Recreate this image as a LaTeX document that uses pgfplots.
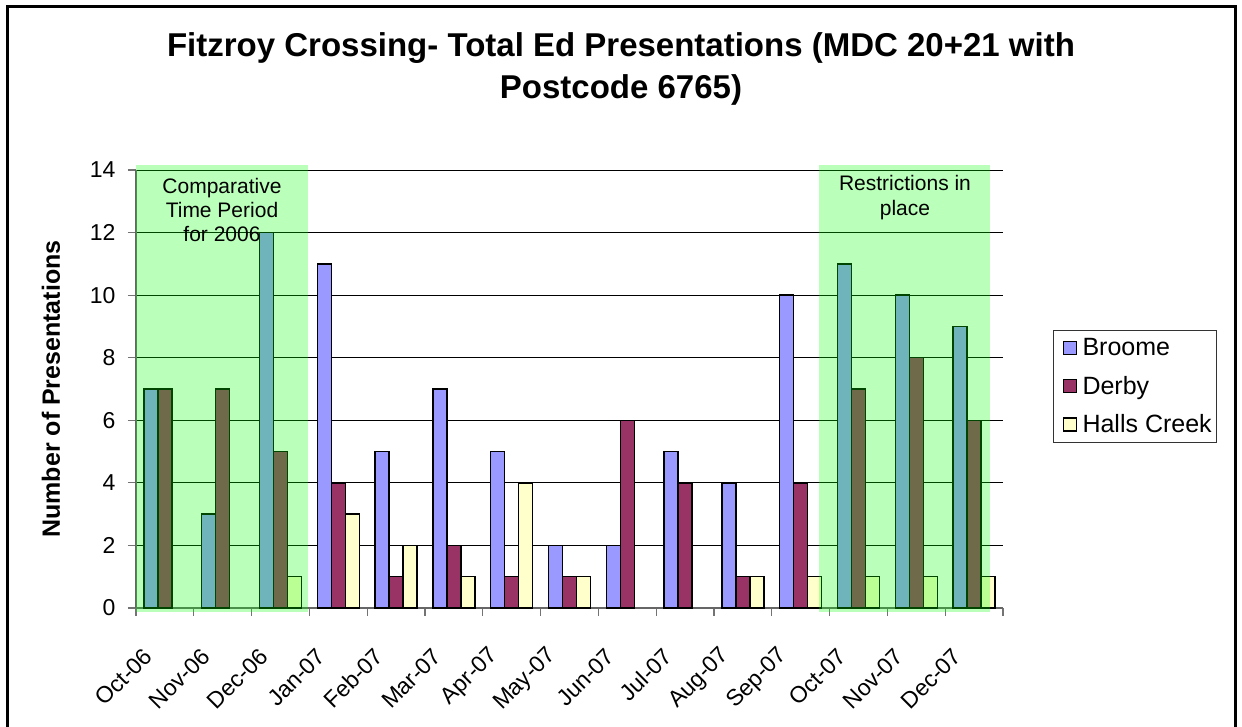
\documentclass[border=0pt]{standalone}
\usepackage{pgfplots}
\pgfplotsset{compat=1.18}
\usepackage{fontspec}
\setmainfont{Liberation Sans}
\definecolor{broome}{RGB}{153,153,255}
\definecolor{derby}{RGB}{153,51,102}
\definecolor{halls}{RGB}{255,255,204}
\definecolor{zone}{RGB}{0,255,0}
\newcommand{\tl}[1]{{\fontsize{23}{27}\selectfont #1}}
\newcommand{\xl}[1]{{\fontsize{23}{27}\selectfont #1}}

\begin{document}
\begin{tikzpicture}[x=1pt,y=1pt]
\useasboundingbox (0,0) rectangle (1242,727);
\fill[white] (0,0) rectangle (1242,727);
\draw[line width=3pt] (7,-10) -- (7,720) -- (1235,720) -- (1235,-10);
\begin{axis}[
  at={(136pt,119pt)}, anchor=south west,
  scale only axis, width=867pt, height=438pt,
  xmin=-0.5, xmax=14.5, ymin=0, ymax=14,
  ytick={0,2,...,14},
  yticklabels={\tl{0},\tl{2},\tl{4},\tl{6},\tl{8},\tl{10},\tl{12},\tl{14}},
  xtick={-0.25,0.75,1.75,2.75,3.75,4.75,5.75,6.75,7.75,8.75,9.75,10.75,11.75,12.75,13.75},
  xticklabels={\xl{Oct-06},\xl{Nov-06},\xl{Dec-06},\xl{Jan-07},\xl{Feb-07},\xl{Mar-07},\xl{Apr-07},\xl{May-07},\xl{Jun-07},\xl{Jul-07},\xl{Aug-07},\xl{Sep-07},\xl{Oct-07},\xl{Nov-07},\xl{Dec-07}},
  minor xtick={-0.5,0.5,...,14.5},
  major x tick style={draw=none},
  minor x tick style={draw=black!55, line width=1.2pt},
  major y tick style={draw=black!55, line width=1.2pt},
  tick align=outside,
  major tick length=8pt, minor tick length=8pt,
  axis x line*=bottom, axis y line*=left,
  axis line style={-, draw=black!60, line width=1.2pt},
  ymajorgrids,
  major grid style={draw=black, line width=0.9pt},
  ybar=0pt, bar width=14pt,
  clip=false,
  xticklabel style={rotate=45, anchor=east},
  xticklabel shift=34pt,
  yticklabel style={xshift=-9pt},
  ylabel={Number of Presentations},
  every axis y label/.style={at={(axis description cs:-0.098,0.5)}, rotate=90, anchor=center, font=\bfseries\fontsize{25}{30}\selectfont},
  legend style={at={(axis description cs:1.0577,0.6347)}, anchor=north west, draw=black!80, line width=1pt,
    font=\fontsize{25}{29}\selectfont, row sep=15pt, inner xsep=3pt, inner ysep=6pt, cells={anchor=west}},
  legend image code/.code={\path[draw=none,fill=none] (0pt,0pt) rectangle (24pt,0pt);\draw[#1, draw=black, line width=1.3pt] (7pt,-6.5pt) rectangle (20pt,6.5pt);},
]
\addplot[fill=broome, draw=black, line width=1.5pt] coordinates {
 (0,7) (1,3) (2,12) (3,11) (4,5) (5,7) (6,5) (7,2) (8,2) (9,5) (10,4) (11,10) (12,11) (13,10) (14,9)};
\addplot[fill=derby, draw=black, line width=1.5pt] coordinates {
 (0,7) (1,7) (2,5) (3,4) (4,1) (5,2) (6,1) (7,1) (8,6) (9,4) (10,1) (11,4) (12,7) (13,8) (14,6)};
\addplot[fill=halls, draw=black, line width=1.5pt] coordinates {
 (2,1) (3,3) (4,2) (5,1) (6,4) (7,1) (10,1) (11,1) (12,1) (13,1) (14,1)};
\legend{Broome,Derby,Halls Creek}
\fill[zone, fill opacity=0.27] (axis cs:-0.5,-0.13) rectangle (axis cs:2.476,14.16);
\fill[zone, fill opacity=0.27] (axis cs:11.32,-0.13) rectangle (axis cs:14.27,14.16);
\end{axis}
\node[align=center, inner sep=0pt, font=\fontsize{21}{24}\selectfont] at (222,517) {Comparative\\Time Period\\for 2006};
\node[align=center, inner sep=0pt, font=\fontsize{21}{25}\selectfont] at (905,529) {Restrictions in\\place};
\node[align=center, inner sep=0pt, font=\bfseries\fontsize{33}{42}\selectfont] at (621,658) {Fitzroy Crossing- Total Ed Presentations (MDC 20+21 with\\Postcode 6765)};
\end{tikzpicture}
\end{document}
